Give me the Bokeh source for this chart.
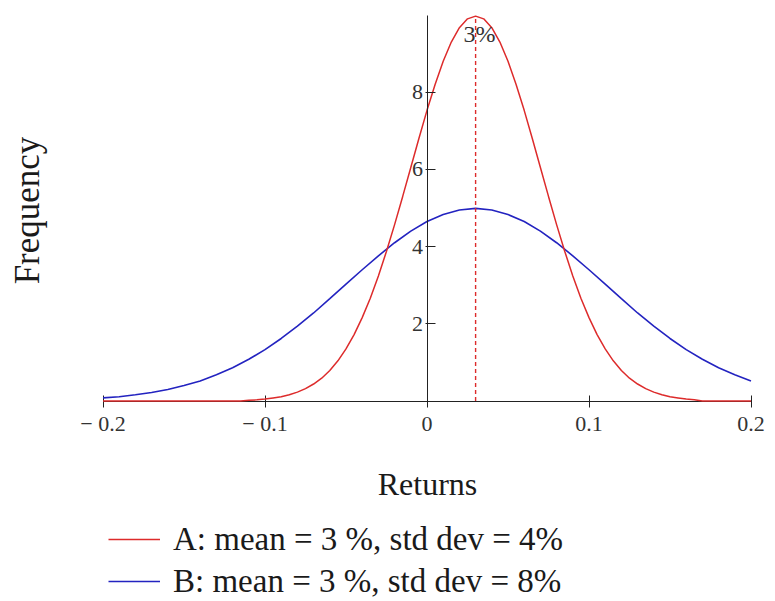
import math
from bokeh.plotting import figure
from bokeh.models import FixedTicker, Legend, LegendItem, Label
from bokeh.embed import file_html
from bokeh.resources import INLINE

# ---- data ----
x_ticks = [-0.2, -0.1, 0.0, 0.1, 0.2]
x_tick_labels = ["\u2212 0.2", "\u2212 0.1", "0", "0.1", "0.2"]
y_ticks = [2, 4, 6, 8]
x_bounds = (-0.2, 0.2)
y_bounds = (0.0, 10.0)

mean_return = [0.03]
mean_label = ["3%"]

# Series A: mean 3 %, std dev 4 %
a_x = [-0.2, -0.115,
       -0.11, -0.105, -0.10, -0.095, -0.09, -0.085, -0.08, -0.075, -0.07, -0.065,
       -0.06, -0.055, -0.05, -0.045, -0.04, -0.035, -0.03, -0.025, -0.02, -0.015,
       -0.01, -0.005, 0.0, 0.005, 0.01, 0.015, 0.02, 0.025, 0.03, 0.035,
       0.04, 0.045, 0.05, 0.055, 0.06, 0.065, 0.07, 0.075, 0.08, 0.085,
       0.09, 0.095, 0.10, 0.105, 0.11, 0.115, 0.12, 0.125, 0.13, 0.135,
       0.14, 0.145, 0.15, 0.155, 0.16, 0.165, 0.17, 0.2]
a_y = [0.0, 0.0,
       0.02, 0.03, 0.05, 0.08, 0.11, 0.16, 0.23, 0.32, 0.44, 0.59,
       0.79, 1.04, 1.35, 1.72, 2.16, 2.66, 3.24, 3.88, 4.57, 5.30,
       6.05, 6.80, 7.53, 8.20, 8.80, 9.30, 9.67, 9.90, 9.97, 9.90,
       9.67, 9.30, 8.80, 8.20, 7.53, 6.80, 6.05, 5.30, 4.57, 3.88,
       3.24, 2.66, 2.16, 1.72, 1.35, 1.04, 0.79, 0.59, 0.44, 0.32,
       0.23, 0.16, 0.11, 0.08, 0.05, 0.03, 0.0, 0.0]

# Series B: mean 3 %, std dev 8 %
b_x = [-0.20, -0.19, -0.18, -0.17, -0.16, -0.15, -0.14, -0.13, -0.12, -0.11,
       -0.10, -0.09, -0.08, -0.07, -0.06, -0.05, -0.04, -0.03, -0.02, -0.01,
       0.00, 0.01, 0.02, 0.03, 0.04, 0.05, 0.06, 0.07, 0.08, 0.09,
       0.10, 0.11, 0.12, 0.13, 0.14, 0.15, 0.16, 0.17, 0.18, 0.19, 0.20]
b_y = [0.08, 0.11, 0.16, 0.22, 0.30, 0.40, 0.52, 0.68, 0.86, 1.08,
       1.33, 1.62, 1.94, 2.28, 2.65, 3.03, 3.40, 3.76, 4.10, 4.40,
       4.65, 4.83, 4.95, 4.99, 4.95, 4.83, 4.65, 4.40, 4.10, 3.76,
       3.40, 3.03, 2.65, 2.28, 1.94, 1.62, 1.33, 1.08, 0.86, 0.68, 0.52]

legend_labels = ["A: mean = 3 %, std dev = 4%", "B: mean = 3 %, std dev = 8%"]
x_title = "Returns"
y_title = "Frequency"

# ---- layout (pixels) ----
W, H = 770, 601
X0_PX, X_SCALE = 426.5, 1620.0     # px of x=0, px per unit
Y0_PX, Y_SCALE = 400.5, 38.6       # px of y=0, px per unit


def px_to_x(px):
    return (px - X0_PX) / X_SCALE


def px_to_y(py):
    return (Y0_PX - py) / Y_SCALE


SERIF = "Liberation Serif"
RED = "#dd2b2b"
BLUE = "#2323c0"
TXT = "#1a1a1a"
TICK_TXT = "#333333"

p = figure(width=W, height=H,
           x_range=(px_to_x(0), px_to_x(W)), y_range=(px_to_y(H), px_to_y(0)),
           output_backend="svg", toolbar_location=None,
           min_border=0, min_border_left=0, min_border_right=0,
           min_border_top=0, min_border_bottom=0)
p.grid.visible = False
p.outline_line_color = None
p.background_fill_color = "white"
p.border_fill_color = "white"

# x axis drawn along y = 0
xa = p.xaxis[0]
xa.fixed_location = 0
xa.bounds = x_bounds
xa.level = "underlay"
xa.ticker = FixedTicker(ticks=x_ticks)
xa.major_label_overrides = dict(zip(x_ticks, x_tick_labels))
xa.major_tick_in = 6
xa.major_tick_out = 6
xa.minor_tick_line_color = None
xa.axis_line_color = "#222222"
xa.major_tick_line_color = "#222222"
xa.major_label_text_font = SERIF
xa.major_label_text_font_size = "22px"
xa.major_label_text_color = TICK_TXT
xa.major_label_standoff = 4
xa.axis_label = x_title
xa.axis_label_text_font = SERIF
xa.axis_label_text_font_size = "32px"
xa.axis_label_text_font_style = "normal"
xa.axis_label_text_color = TXT
xa.axis_label_standoff = 26

# y axis drawn along x = 0
ya = p.yaxis[0]
ya.fixed_location = 0
ya.bounds = y_bounds
ya.ticker = FixedTicker(ticks=y_ticks)
ya.major_tick_in = 8
ya.major_tick_out = 2
ya.minor_tick_line_color = None
ya.axis_line_color = "#222222"
ya.major_tick_line_color = "#222222"
ya.major_label_text_font = SERIF
ya.major_label_text_font_size = "22px"
ya.major_label_text_color = TICK_TXT
ya.major_label_standoff = 2

# curves
rb = p.line(b_x, b_y, line_color=BLUE, line_width=1.6)
ra = p.line(a_x, a_y, line_color=RED, line_width=1.5)

# mean marker
p.segment(x0=mean_return, y0=[0], x1=mean_return, y1=[max(a_y)],
          line_color=RED, line_width=1.4, line_dash="4 3")
p.text(x=mean_return, y=[px_to_y(33)], text=mean_label, x_offset=4,
       text_align="center", text_baseline="middle",
       text_font={"value": SERIF}, text_font_size="24px", text_color=TICK_TXT)

# y title
p.add_layout(Label(x=px_to_x(27), y=px_to_y(210), text=y_title, angle=math.pi / 2,
                   text_align="center", text_baseline="middle",
                   text_font=SERIF, text_font_size="35px", text_color=TXT))

# legend below the plot
ITEM_H, GAP = 38, 4
legend_top = 539 - ITEM_H / 2
legend_h = 2 * ITEM_H + GAP
legend = Legend(items=[LegendItem(label=legend_labels[0], renderers=[ra]),
                       LegendItem(label=legend_labels[1], renderers=[rb])],
                location=(108, H - legend_top - legend_h), orientation="vertical",
                glyph_width=52, glyph_height=ITEM_H, label_height=ITEM_H,
                label_standoff=13, label_text_font=SERIF, label_text_font_size="33px",
                label_text_color=TXT, spacing=GAP, padding=0, margin=0,
                border_line_color=None, background_fill_alpha=0.0)
p.add_layout(legend)

open("out.html", "w").write(file_html(p, INLINE))
